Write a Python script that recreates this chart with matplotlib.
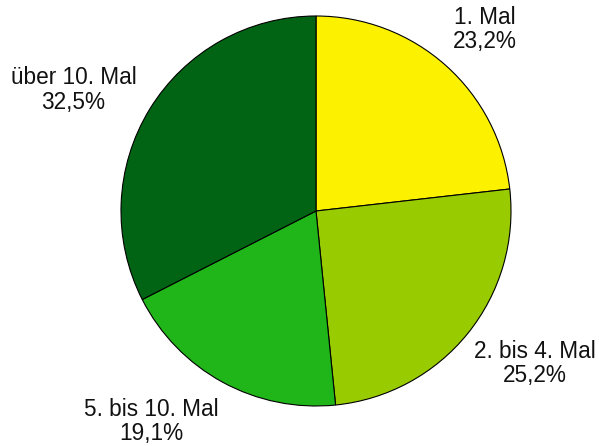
import matplotlib.pyplot as plt
import numpy as np

plt.rcParams['font.family'] = ['Liberation Sans', 'DejaVu Sans']

labels = ["1. Mal", "2. bis 4. Mal", "5. bis 10. Mal", "über 10. Mal"]
shares = [23.2, 25.2, 19.1, 32.5]
colors = ["#FCF200", "#99CC00", "#20B619", "#006414"]
# label placement: distance in radii and angle nudge (deg) from the wedge middle
label_dist = [1.27, 1.37, 1.37, 1.39]
label_nudge = [-1.1, 4.0, -9.4, 5.0]

fig = plt.figure(figsize=(5.99, 4.46), dpi=100)
# pie sits in a square 390x390 px box centred at (316, 211) from the top-left
ax = fig.add_axes([121 / 599, 40 / 446, 390 / 599, 390 / 446])

wedges, texts = ax.pie(
    shares,
    colors=colors,
    startangle=90,
    counterclock=False,
    labels=[f"{l}\n{str(s).replace('.', ',')}%" for l, s in zip(labels, shares)],
    labeldistance=1.0,
    wedgeprops=dict(edgecolor="black", linewidth=0.8),
    textprops=dict(fontsize=16.3, color="#111111"),
)

for t, w, d, n in zip(texts, wedges, label_dist, label_nudge):
    ang = np.deg2rad((w.theta1 + w.theta2) / 2 + n)
    t.set_position((d * np.cos(ang), d * np.sin(ang)))
    t.set_ha("center")
    t.set_va("center")
    t.set_multialignment("center")
    t.set_linespacing(1.08)

ax.set_xlim(-1, 1)
ax.set_ylim(-1, 1)
ax.axis("off")

fig.savefig("out.png", dpi=100)
